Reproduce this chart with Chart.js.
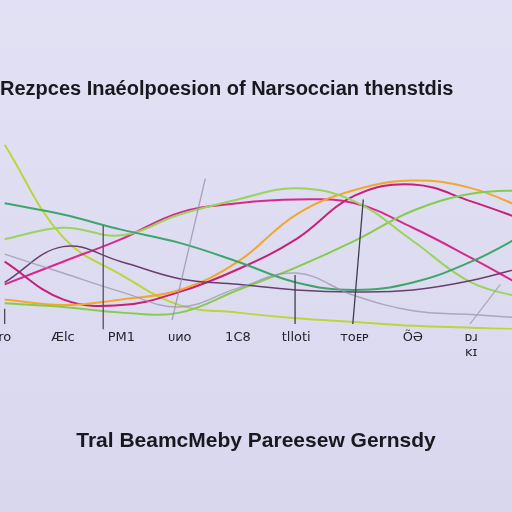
<!DOCTYPE html>
<html>
<head>
<meta charset="utf-8">
<script src="https://cdn.jsdelivr.net/npm/chart.js@4"></script>
<style>
  html, body { margin: 0; padding: 0; }
  body { width: 512px; height: 512px; background: linear-gradient(#e2e1f4, #d8d7ee); }
  #wrap { width: 512px; height: 512px; }
</style>
</head>
<body>
<div id="wrap"><canvas id="chart"></canvas></div>
<script>
const categories = ["ro", "Ælc", "PM1", "ᴜᴎᴏ", "1C8", "tlloti", "ᴛᴏᴇᴘ", "ÕƏ", ["ᴅɹ", "ᴋɪ"]];

const limeVals    = [98, 49, 29, 13, 9, 6, 4, 2, 1, 0];
const orangeVals  = [16, 13, 16, 21, 36, 61, 74, 79, 75, 63];
const magentaVals = [24, 36, 48, 62, 67, 69, 67, 54, 38, 21];
const pinkVals    = [36, 16, 13, 20, 32, 48, 71, 77, 68, 57];
const greenVals   = [67, 61, 53, 46, 36, 25, 21, 25, 36, 52];
const riseVals    = [14, 12, 9, 9, 21, 33, 47, 63, 72, 74];
const topVals     = [48, 54, 50, 61, 69, 75, 68, 47, 25, 16];
const purpleVals  = [25, 44, 36, 27, 24, 21, 20, 21, 26, 34];
const greyVals    = [40, 30, 20, 12, 22, 30, 18, 10, 8, 6];

// near-vertical strokes: base point and top point
const stemBaseX = [0.0, 1.69, 2.87, 4.98, 5.97, 7.98];
const stemBaseY = [3, 0, 5, 3, 3, 3];
const stemTopX  = [0.0, 1.69, 3.44, 4.98, 6.15, 8.5];
const stemTopY  = [11, 55, 80, 29, 69, 24];
const stemColors = ["#4a4a55", "#5a4a66", "rgba(150,146,170,0.8)", "#3f3f4a", "#3f3f4a", "rgba(160,160,175,0.8)"];

function series(vals, color, width) {
    return {
        data: vals.map((v, i) => ({ x: i, y: v })),
        borderColor: color,
        borderWidth: width,
        pointRadius: 0,
        tension: 0.4,
        fill: false
    };
}

const stems = stemBaseX.map((bx, i) => ({
    data: [{ x: bx, y: stemBaseY[i] }, { x: stemTopX[i], y: stemTopY[i] }],
    borderColor: stemColors[i],
    borderWidth: 1.3,
    pointRadius: 0,
    fill: false
}));

const ctx = document.getElementById("chart").getContext("2d");
new Chart(ctx, {
    type: "line",
    data: {
        datasets: [
            ...stems,
            series(greyVals, "rgba(150,146,170,0.7)", 1.5),
            series(purpleVals, "#6b3d6e", 1.5),
            series(greenVals, "#3fa56c", 2),
            series(topVals, "#9bd35c", 2),
            series(riseVals, "#86cc4c", 2),
            series(orangeVals, "#f3a72c", 2),
            series(pinkVals, "#c91f79", 2),
            series(magentaVals, "#d8288c", 2),
            series(limeVals, "#b9d63a", 2)
        ]
    },
    options: {
        responsive: true,
        maintainAspectRatio: false,
        animation: false,
        layout: { padding: 0 },
        plugins: {
            legend: { display: false },
            tooltip: { enabled: false },
            title: {
                display: true,
                text: "Rezpces Inaéolpoesion of Narsoccian thenstdis",
                align: "start",
                color: "#18181f",
                font: { family: "Liberation Sans", size: 20, weight: "bold" },
                padding: { top: 77, bottom: 40 }
            }
        },
        scales: {
            x: {
                type: "linear",
                min: -0.08,
                max: 8.7,
                border: { display: false },
                grid: { display: false },
                ticks: {
                    stepSize: 1,
                    includeBounds: false,
                    autoSkip: false,
                    maxRotation: 0,
                    padding: -8,
                    color: "#24242c",
                    font: { family: "DejaVu Sans", size: 13 },
                    callback: v => Number.isInteger(v) && categories[v] !== undefined ? categories[v] : ""
                },
                title: {
                    display: true,
                    text: "Tral BeamcMeby Pareesew Gernsdy",
                    color: "#18181f",
                    font: { family: "Liberation Sans", size: 21, weight: "bold" },
                    padding: { top: 76, bottom: 58 }
                }
            },
            y: {
                display: false,
                min: 0,
                max: 100
            }
        }
    }
});
</script>
</body>
</html>
